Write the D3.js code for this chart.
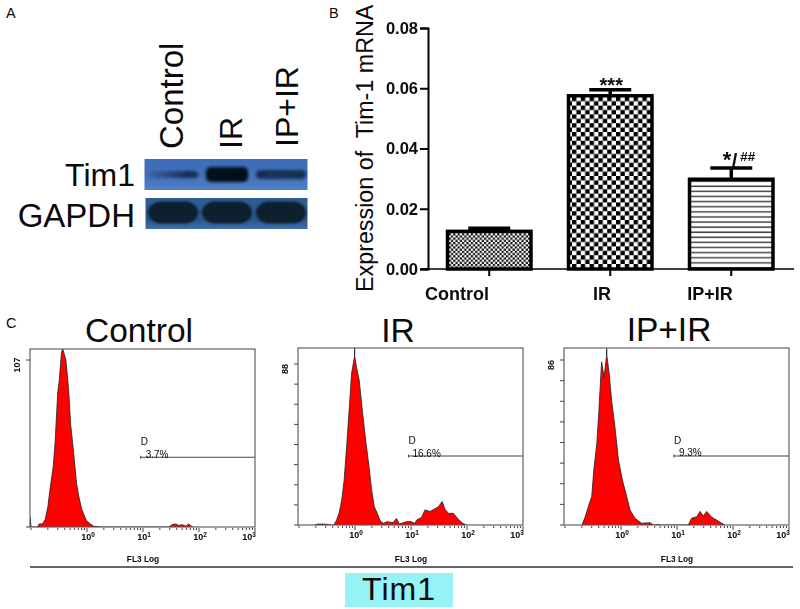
<!DOCTYPE html>
<html><head><meta charset="utf-8">
<script src="https://cdn.jsdelivr.net/npm/d3@7/dist/d3.min.js"></script>
<style>
html,body{margin:0;padding:0;background:#fff}
svg{display:block}
text{font-family:"Liberation Sans",Arial,sans-serif;fill:#0a0a0a}
</style></head><body>
<script>
// ---------- data ----------
const groups = ["Control", "IR", "IP+IR"];
const mrnaMean = [0.0125, 0.0575, 0.0298];
const mrnaTop = [0.0135, 0.0595, 0.0335];
const mrnaTicks = [0, 0.02, 0.04, 0.06, 0.08];
const mrnaMarks = ["", "***", ""];

const tim1BandLeft = [0.08, 0.95, 0.6];
const tim1BandRight = [0.75, 1, 0.7];
const tim1BandHeight = [7, 15, 9];
const gapdhBand = [0.97, 0.97, 0.97];
const gapdhBandHeight = [22, 22, 22];

const fl3Ticks = [1, 10, 100, 1000];
const controlHist = [[0.096,0],[0.097,6],[0.1,0],[0.13,0],[0.14,2],[0.16,2],[0.18,5],[0.2,13],[0.22,25],[0.25,39],[0.27,55],[0.3,86],[0.32,94],[0.35,112],[0.37,114],[0.42,107],[0.47,88],[0.51,66],[0.58,47],[0.65,28],[0.72,19],[0.81,11],[0.98,4],[1.15,2],[1.32,0.5],[1.74,0],[29,0],[33,1.5],[38,2],[44,1],[50,1.5],[58,0.6],[66,2],[72,0.6],[79,0]];
const irHist = [[0.19,0],[0.22,0.5],[0.29,0.5],[0.38,0],[0.42,0],[0.47,2.7],[0.525,7],[0.58,13.7],[0.64,24.6],[0.71,43],[0.79,64],[0.87,83],[0.93,88],[0.98,92],[0.985,97],[0.99,92],[1.07,86],[1.19,79],[1.37,61],[1.57,45],[1.78,32],[1.98,19],[2.21,10],[2.5,6.4],[2.8,2.4],[3.2,0.9],[3.7,1.8],[4.8,1.3],[5.5,3.6],[6.2,0.5],[7.8,1.6],[9.6,2],[11.8,0.9],[12.6,2.7],[15.5,4.2],[17.7,8.2],[21.9,7.4],[26.8,8.9],[30.9,10],[36,12.8],[40.5,8.6],[46.4,6.4],[57,6.4],[70,3.1],[84,0.9],[98,0]];
const ipirHist = [[0.2,0],[0.23,4.3],[0.26,9.5],[0.3,14.8],[0.33,30],[0.37,42.5],[0.4,58],[0.45,85],[0.5,77],[0.55,88],[0.555,92],[0.56,88],[0.61,80],[0.68,65],[0.78,51],[0.9,34],[1.06,23.4],[1.26,15],[1.45,7.8],[1.78,3.5],[2.34,0.9],[3.3,1.2],[3.8,0],[4.6,0.3],[5,0],[15.9,0],[18.2,3.5],[22.5,4.3],[25.8,7.1],[29.5,4.7],[33.9,7.1],[41.7,4],[51,2.6],[63,0.9],[72,0]];
const histMax = [107, 88, 86];
const gateStart = [9.1, 9, 8.8];
const gateCount = [44.7, 37.7, 36];
const gatePercent = ["3.7%", "16.6%", "9.3%"];

// ---------- layout ----------
const svg = d3.select("body").append("svg").attr("width",800).attr("height",609);
const defs = svg.append("defs");
function gaussian(id,sd){
  const f=defs.append("filter").attr("id",id).attr("x","-20%").attr("y","-60%").attr("width","140%").attr("height","220%");
  f.append("feGaussianBlur").attr("stdDeviation",sd);
}
gaussian("fine",0.25); gaussian("blur",1.6); gaussian("blur2",1.0);

function label(g,x,y,str,size,opt={}){
  const t=g.append("text").attr("x",x).attr("y",y).attr("font-size",size).text(str);
  if(opt.anchor) t.attr("text-anchor",opt.anchor);
  if(opt.bold) t.attr("font-weight","bold");
  if(opt.rotate) t.attr("transform",`rotate(${opt.rotate} ${x} ${y})`);
  if(opt.spacing) t.attr("letter-spacing",opt.spacing);
  return t;
}
label(svg,6,18,"A",14.5); label(svg,329,18,"B",14.5); label(svg,6,328,"C",14.5);

// ---------- panel A: blot ----------
const A = svg.append("g");
const laneX = d3.scaleBand().domain(groups).range([148,306]).paddingInner(0.07);
[[183,149,33],[241.5,149,32],[297.5,147,32]].forEach((d,i)=>
  label(A,d[0],d[1],groups[i],d[2],{rotate:-90}));
label(A,135,186,"Tim1",32,{anchor:"end"});
label(A,135,227,"GAPDH",33,{anchor:"end"});
const bg1=defs.append("linearGradient").attr("id","bg1").attr("x2",0).attr("y2",1);
bg1.append("stop").attr("offset",0).attr("stop-color","#3d6cb8");
bg1.append("stop").attr("offset",0.6).attr("stop-color","#4472bc");
bg1.append("stop").attr("offset",1).attr("stop-color","#5080c8");
const bg2=defs.append("linearGradient").attr("id","bg2").attr("x2",0).attr("y2",1);
bg2.append("stop").attr("offset",0).attr("stop-color","#2d5f96");
bg2.append("stop").attr("offset",0.7).attr("stop-color","#2a5688");
bg2.append("stop").attr("offset",1).attr("stop-color","#3f70ac");
A.append("rect").attr("x",144.5).attr("y",159).attr("width",163).attr("height",31).attr("fill","url(#bg1)");
A.append("rect").attr("x",145.5).attr("y",198).attr("width",162).attr("height",31).attr("fill","url(#bg2)");
groups.forEach((g,i)=>{
  const lg=defs.append("linearGradient").attr("id","band"+i);
  lg.append("stop").attr("offset",0).attr("stop-color","#050a18").attr("stop-opacity",tim1BandLeft[i]);
  lg.append("stop").attr("offset",1).attr("stop-color","#050a18").attr("stop-opacity",tim1BandRight[i]);
});
const tim1Bands=A.append("g").attr("filter","url(#blur)");
tim1Bands.selectAll("rect").data(groups).join("rect")
  .attr("x",d=>laneX(d)+(d==="IR"?4:0)).attr("width",d=>laneX.bandwidth()-(d==="IR"?8:0))
  .attr("y",(d,i)=>174.5-tim1BandHeight[i]/2).attr("height",(d,i)=>tim1BandHeight[i])
  .attr("rx",5).attr("fill",(d,i)=>`url(#band${i})`);
const gapdhBands=A.append("g").attr("filter","url(#blur2)");
gapdhBands.selectAll("rect").data(groups).join("rect")
  .attr("x",d=>laneX(d)).attr("width",laneX.bandwidth())
  .attr("y",(d,i)=>212.5-gapdhBandHeight[i]/2).attr("height",(d,i)=>gapdhBandHeight[i])
  .attr("rx",14).attr("fill","#0f1e2c").attr("opacity",(d,i)=>gapdhBand[i]);

// ---------- panel B: bars ----------
const fineCheck=defs.append("pattern").attr("id","fineP").attr("width",4.4).attr("height",4.4).attr("patternUnits","userSpaceOnUse");
fineCheck.append("rect").attr("width",4.4).attr("height",4.4).attr("fill","#fff");
fineCheck.append("rect").attr("width",2.2).attr("height",2.2).attr("fill","#111");
fineCheck.append("rect").attr("x",2.2).attr("y",2.2).attr("width",2.2).attr("height",2.2).attr("fill","#111");
const bigCheck=defs.append("pattern").attr("id","big").attr("width",8.8).attr("height",8.8).attr("patternUnits","userSpaceOnUse");
bigCheck.append("rect").attr("width",8.8).attr("height",8.8).attr("fill","#fff");
bigCheck.append("rect").attr("width",4.4).attr("height",4.4).attr("fill","#000");
bigCheck.append("rect").attr("x",4.4).attr("y",4.4).attr("width",4.4).attr("height",4.4).attr("fill","#000");
const stripes=defs.append("pattern").attr("id","stripes").attr("width",10).attr("height",5.1).attr("patternUnits","userSpaceOnUse");
stripes.append("rect").attr("width",10).attr("height",5.1).attr("fill","#fff");
stripes.append("rect").attr("y",2).attr("width",10).attr("height",1.5).attr("fill","#444");
const fills=["url(#fineP)","url(#big)","url(#stripes)"];

const B = svg.append("g").attr("filter","url(#fine)");
const bx = d3.scaleBand().domain(groups).range([447.5,773]).paddingInner(0.31);
const by = d3.scaleLinear().domain([0,0.08]).range([269,28]);
B.selectAll("rect.bar").data(groups).join("rect").attr("class","bar")
  .attr("x",d=>bx(d)).attr("width",bx.bandwidth())
  .attr("y",(d,i)=>by(mrnaMean[i])).attr("height",(d,i)=>269-by(mrnaMean[i]))
  .attr("fill",(d,i)=>fills[i]).attr("stroke","#000").attr("stroke-width",3.5);
groups.forEach((g,i)=>{
  const c=bx(g)+bx.bandwidth()/2;
  B.append("line").attr("x1",c).attr("x2",c).attr("y1",by(mrnaMean[i])).attr("y2",by(mrnaTop[i])).attr("stroke","#000").attr("stroke-width",3.5);
  B.append("line").attr("x1",c-21).attr("x2",c+21).attr("y1",by(mrnaTop[i])).attr("y2",by(mrnaTop[i])).attr("stroke","#000").attr("stroke-width",3.5);
  if(mrnaMarks[i]) label(B,c+1,92,mrnaMarks[i],20,{anchor:"middle",bold:true});
});
label(B,727,167,"*",22,{anchor:"middle",bold:true});
label(B,734.5,168,"/",20,{anchor:"middle",bold:true});
label(B,747.5,161,"##",13.5,{anchor:"middle",bold:true}).attr("font-style","italic");
const yAxis=B.append("g").attr("transform","translate(428,0)")
  .call(d3.axisLeft(by).tickValues(mrnaTicks).tickFormat(d3.format(".2f")).tickSize(8).tickPadding(2));
yAxis.selectAll("path,line").attr("stroke","#000").attr("stroke-width",2);
yAxis.selectAll("text").attr("font-size",16.5).attr("font-weight","bold").attr("font-family",'"Liberation Sans",Arial,sans-serif').attr("fill","#0a0a0a");
const xAxis=B.append("g").attr("transform","translate(0,269)")
  .call(d3.axisBottom(bx).tickSize(7).tickFormat(""));
xAxis.select("path").remove();
xAxis.selectAll("line").attr("stroke","#000").attr("stroke-width",2);
B.append("line").attr("x1",420).attr("x2",794).attr("y1",269).attr("y2",269).attr("stroke","#000").attr("stroke-width",1.5);
[457,602,710].forEach((x,i)=>label(B,x,300,groups[i],18,{anchor:"middle",bold:true}));
label(svg,373,292,"Expression of  Tim-1 mRNA",23.3,{rotate:-90}).style("white-space","pre");

// ---------- panel C: flow histograms ----------
const panels=[
 {hist:controlHist,x0:30,x1:255,top:349,base:527,labelY:360,title:139,titleBase:342,yLabelX:20,ticks:1},
 {hist:irHist,x0:298,x1:523,top:348,base:525,labelY:364,title:398,titleBase:342,yLabelX:288,ticks:8},
 {hist:ipirHist,x0:564,x1:789,top:348,base:525,labelY:360,title:669,titleBase:341,yLabelX:554,ticks:8}
];
panels.forEach((p,i)=>{
  label(svg,p.title,p.titleBase,groups[i],33.5,{anchor:"middle"});
  const g=svg.append("g").attr("filter","url(#fine)");
  const x=d3.scaleLog().domain([1000*Math.pow(10,-(p.x1-p.x0)/56),1000]).range([p.x0,p.x1]);
  const y=d3.scaleLinear().domain([0,histMax[i]]).range([p.base,p.labelY]);
  const clip="clip"+i;
  defs.append("clipPath").attr("id",clip).append("rect").attr("x",p.x0).attr("y",p.top).attr("width",p.x1-p.x0).attr("height",p.base-p.top);
  g.append("path").datum(p.hist).attr("clip-path",`url(#${clip})`)
    .attr("d",d3.area().x(d=>x(d[0])).y0(p.base).y1(d=>y(d[1])))
    .attr("fill","#ff0000");
  g.append("path").datum(p.hist).attr("clip-path",`url(#${clip})`)
    .attr("d",d3.line().x(d=>x(d[0])).y(d=>y(d[1])))
    .attr("fill","none").attr("stroke","#222").attr("stroke-width",0.8);
  g.append("rect").attr("x",p.x0).attr("y",p.top).attr("width",p.x1-p.x0).attr("height",p.base-p.top)
    .attr("fill","none").attr("stroke","#555").attr("stroke-width",1.1);
  const minor=x.ticks().filter(v=>v>=x.domain()[0]*1.02);
  g.selectAll("line.minor").data(minor).join("line").attr("class","minor")
    .attr("x1",d=>x(d)).attr("x2",d=>x(d)).attr("y1",p.base+1).attr("y2",d=>fl3Ticks.includes(d)?p.base+5:p.base+3)
    .attr("stroke","#444").attr("stroke-width",1);
  fl3Ticks.forEach((v,k)=>{
    const t=g.append("text").attr("x",x(v)+(k===3?-6:1)).attr("y",p.base+13).attr("text-anchor","middle").attr("font-size",9).attr("font-weight","bold");
    t.append("tspan").text("10");
    t.append("tspan").attr("dy",-3).attr("font-size",6.5).text(k);
  });
  const yt=d3.range(p.ticks+1).map(k=>histMax[i]*(p.ticks===1?k:k/p.ticks));
  g.selectAll("line.yt").data(yt).join("line").attr("class","yt")
    .attr("x1",p.x0-4).attr("x2",p.x0).attr("y1",d=>y(d)).attr("y2",d=>y(d)).attr("stroke","#444").attr("stroke-width",1);
  label(g,p.yLabelX,p.labelY+5,histMax[i],9,{anchor:"middle",bold:true,rotate:-90});
  const gx=x(gateStart[i]), gy=y(gateCount[i]);
  g.append("line").attr("x1",gx).attr("x2",p.x1).attr("y1",gy).attr("y2",gy).attr("stroke","#444").attr("stroke-width",1.1);
  g.append("line").attr("x1",gx).attr("x2",gx).attr("y1",gy-1.5).attr("y2",gy+1.5).attr("stroke","#444").attr("stroke-width",1);
  label(g,gx,gy-12,"D",10,{});
  label(g,gx+(i===1?4:5),gy+0.5,gatePercent[i],10,{});
  label(g,(p.x0+p.x1)/2+0.5,562,"FL3 Log",8.3,{anchor:"middle",bold:true});
});
svg.append("line").attr("x1",30).attr("x2",793).attr("y1",567).attr("y2",567).attr("stroke","#333").attr("stroke-width",1.3);
const cap=svg.append("g");
cap.append("rect").attr("x",345).attr("y",573).attr("width",108).attr("height",34).attr("fill","#96f3f5");
label(cap,399,600,"Tim1",32,{anchor:"middle",spacing:1});
</script>
</body></html>
